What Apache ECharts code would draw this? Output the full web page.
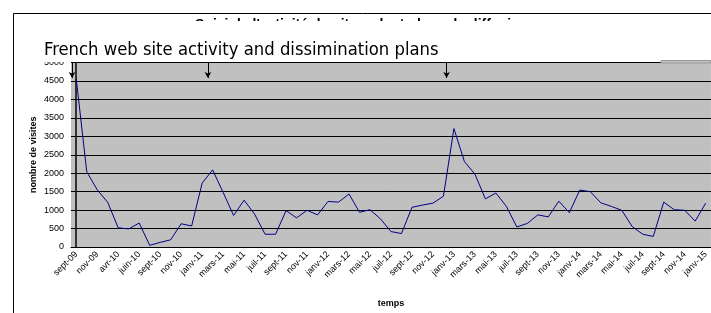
<!DOCTYPE html>
<html>
<head>
<meta charset="utf-8">
<script src="https://cdn.jsdelivr.net/npm/echarts@6/dist/echarts.min.js"></script>
<style>
  html, body { margin: 0; padding: 0; background: #fff; }
  #chart { width: 711px; height: 313px; }
</style>
</head>
<body>
<div id="chart"></div>
<script>
// months (categories) - only every other one is labelled on the axis
const months = ['sept-09', 'oct-09', 'nov-09', 'déc-09', 'avr-10', 'mai-10', 'juin-10', 'juil-10',
  'sept-10', 'oct-10', 'nov-10', 'déc-10', 'janv-11', 'févr-11', 'mars-11', 'avr-11', 'mai-11',
  'juin-11', 'juil-11', 'août-11', 'sept-11', 'oct-11', 'nov-11', 'déc-11', 'janv-12', 'févr-12',
  'mars-12', 'avr-12', 'mai-12', 'juin-12', 'juil-12', 'août-12', 'sept-12', 'oct-12', 'nov-12',
  'déc-12', 'janv-13', 'févr-13', 'mars-13', 'avr-13', 'mai-13', 'juin-13', 'juil-13', 'août-13',
  'sept-13', 'oct-13', 'nov-13', 'déc-13', 'janv-14', 'févr-14', 'mars-14', 'avr-14', 'mai-14',
  'juin-14', 'juil-14', 'août-14', 'sept-14', 'oct-14', 'nov-14', 'déc-14', 'janv-15']

const visits = [4560, 2040, 1550, 1210, 520, 490, 650, 45, 125, 195, 630, 570, 1730, 2090, 1480,
  855, 1268, 890, 346, 346, 985, 790, 995, 870, 1234, 1216, 1437, 941, 1011, 763, 418, 364, 1075,
  1136, 1189, 1375, 3210, 2316, 1975, 1304, 1463, 1101, 543, 639, 870, 817, 1242, 931, 1543, 1500,
  1197, 1101, 995, 551, 346, 285, 1216, 1011, 995, 702, 1189]

const yTicks = [0, 500, 1000, 1500, 2000, 2500, 3000, 3500, 4000, 4500, 5000]

// dissemination events (in category index units)
const arrowAt = [-0.4, 12.55, 35.3]

const FONT = '"Liberation Sans", Arial, sans-serif'

const chart = echarts.init(document.getElementById('chart'), null, { renderer: 'canvas' })

const arrowLines = arrowAt.map(x => [
  { coord: [x, yTicks[yTicks.length - 1]] },
  { coord: [x, 4580] }
])

chart.setOption({
  animation: false,
  backgroundColor: '#fff',
  textStyle: { fontFamily: FONT },
  title: {
    text: 'French web site activity and dissimination plans',
    left: 39,
    top: 36,
    z: 200,
    textStyle: {
      fontFamily: '"Liberation Sans Narrow", "DejaVu Sans Condensed", sans-serif',
      fontSize: 18.3,
      fontWeight: 'normal',
      color: '#000'
    }
  },
  grid: {
    left: 71,
    right: 0,
    top: 62.5,
    bottom: 62,
    show: true,
    backgroundColor: '#c0c0c0',
    borderWidth: 0
  },
  xAxis: [
    {
      type: 'category',
      data: months,
      boundaryGap: true,
      name: 'temps',
      nameLocation: 'middle',
      nameGap: 52,
      nameMoveOverlap: false,
      nameTextStyle: { fontSize: 9, fontWeight: 'bold', color: '#000', fontFamily: FONT },
      axisLine: { lineStyle: { color: '#000', width: 1 } },
      axisTick: { interval: 0, length: 4, lineStyle: { color: '#000' } },
      axisLabel: { interval: 1, rotate: 45, fontSize: 9, color: '#000', margin: 6, fontFamily: FONT },
      splitLine: { show: false }
    },
    {
      type: 'value',
      min: -0.5,
      max: months.length - 0.5,
      show: false
    }
  ],
  yAxis: {
    type: 'value',
    min: 0,
    max: 5000,
    interval: 500,
    name: 'nombre de visites',
    nameLocation: 'middle',
    nameGap: 33,
    nameMoveOverlap: false,
    nameTextStyle: { fontSize: 9, fontWeight: 'bold', color: '#000', fontFamily: FONT },
    axisLine: { show: true, lineStyle: { color: '#333', width: 2 } },
    axisTick: { show: true, length: 4, lineStyle: { color: '#000' } },
    axisLabel: { fontSize: 9, color: '#000', margin: 7, fontFamily: FONT, formatter: v => String(v) },
    splitLine: { show: true, lineStyle: { color: '#000', width: 1 } }
  },
  series: [
    {
      name: 'visites',
      type: 'line',
      data: visits,
      symbol: 'none',
      lineStyle: { color: '#000080', width: 1 },
      z: 5
    },
    {
      name: 'events',
      type: 'line',
      xAxisIndex: 1,
      data: [],
      z: 6,
      markLine: {
        silent: true,
        symbol: ['none', 'arrow'],
        symbolSize: [5, 6],
        label: { show: false },
        lineStyle: { color: '#000', width: 1, type: 'solid' },
        data: arrowLines
      }
    }
  ],
  graphic: [
    // old title, almost hidden by the text box
    {
      type: 'text',
      left: 195,
      top: 18,
      z: 150,
      style: {
        text: "Suivi de l'activité du site web et plans de diffusion",
        font: 'bold 14px "Liberation Sans", Arial, sans-serif',
        fill: '#000'
      }
    },
    // white text box covering the top of the chart
    { type: 'rect', z: 160, shape: { x: 14, y: 21, width: 646, height: 41 }, style: { fill: '#fff' } },
    { type: 'rect', z: 160, shape: { x: 661, y: 60.5, width: 50, height: 2.5 }, style: { fill: '#c0c0c0', stroke: '#999', lineWidth: 1 } },
    // outer chart frame
    { type: 'rect', z: 170, shape: { x: 13.5, y: 13.5, width: 720, height: 320 }, style: { fill: 'none', stroke: '#000', lineWidth: 1 } }
  ]
})
</script>
</body>
</html>
